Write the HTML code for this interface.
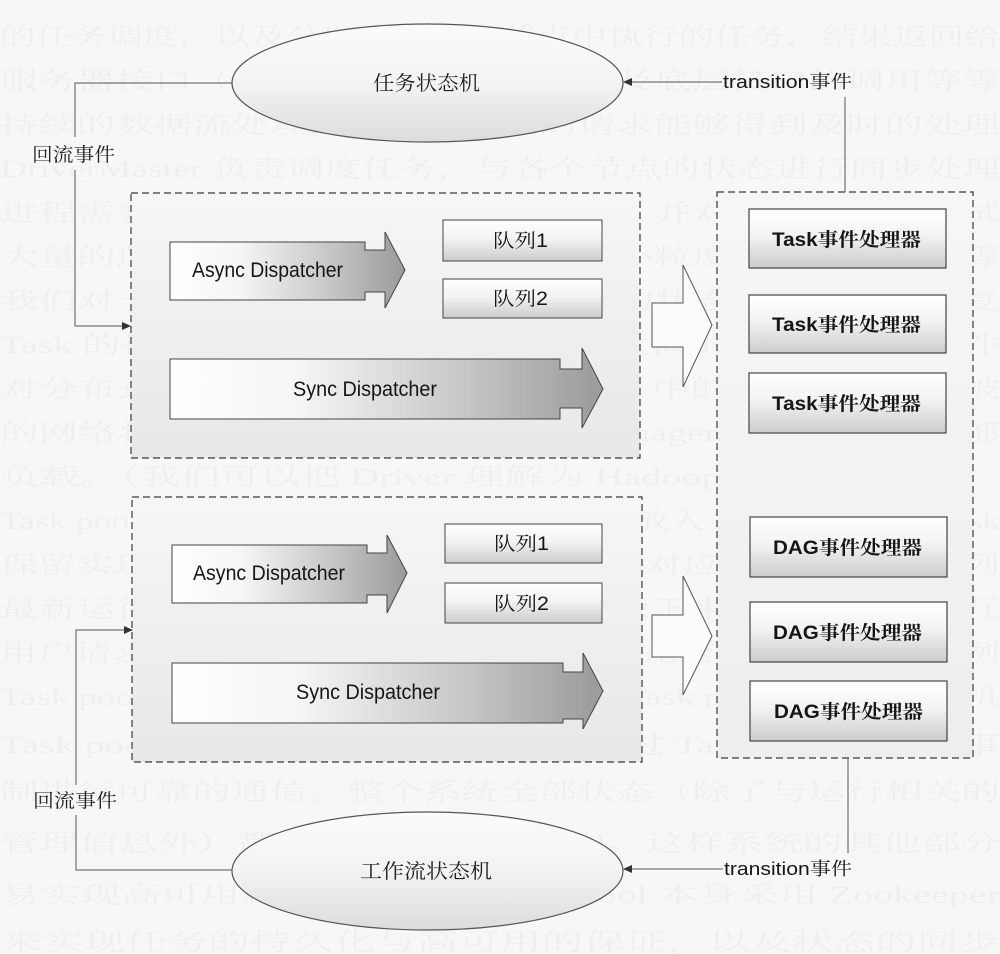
<!DOCTYPE html>
<html>
<head>
<meta charset="utf-8">
<style>
  html,body{margin:0;padding:0;background:#f7f7f7;}
  body{width:1000px;height:954px;overflow:hidden;}
  svg{display:block;}
  .bg{font-family:"Liberation Serif","Noto Serif CJK SC",serif;font-size:24px;fill:#efefef;}
  .lat{font-family:"Liberation Sans","Noto Serif CJK SC",sans-serif;fill:#161616;}
  .cn{font-family:"Liberation Serif","Noto Serif CJK SC",serif;fill:#222;}
</style>
</head>
<body>
<svg width="1000" height="954" viewBox="0 0 1000 954" xmlns="http://www.w3.org/2000/svg">
  <defs>
    <linearGradient id="arrowGrad" x1="0" y1="0" x2="1" y2="0">
      <stop offset="0" stop-color="#ffffff"/>
      <stop offset="0.3" stop-color="#f5f5f5"/>
      <stop offset="0.7" stop-color="#c4c4c4"/>
      <stop offset="1" stop-color="#9a9a9a"/>
    </linearGradient>
    <linearGradient id="boxGrad" x1="0" y1="0" x2="0" y2="1">
      <stop offset="0" stop-color="#ffffff"/>
      <stop offset="0.45" stop-color="#f3f3f3"/>
      <stop offset="1" stop-color="#cccccc"/>
    </linearGradient>
    <linearGradient id="ellGrad" x1="0" y1="0" x2="0" y2="1">
      <stop offset="0" stop-color="#fbfbfb"/>
      <stop offset="0.5" stop-color="#f3f3f3"/>
      <stop offset="1" stop-color="#dcdcdc"/>
    </linearGradient>
    <linearGradient id="panelGrad" x1="0" y1="0" x2="0" y2="1">
      <stop offset="0" stop-color="#f6f6f6"/>
      <stop offset="1" stop-color="#e8e8e8"/>
    </linearGradient>
    <linearGradient id="panelGrad2" x1="0" y1="0" x2="0" y2="1">
      <stop offset="0" stop-color="#f6f6f6"/>
      <stop offset="1" stop-color="#eeeeee"/>
    </linearGradient>
  </defs>

  <!-- faint background bleed-through text -->
  <g class="bg">
    <text x="0" y="45" textLength="1000" lengthAdjust="spacingAndGlyphs">的任务调度，以及分发到相应的节点中执行的任务，结果返回给</text>
    <text x="0" y="89" textLength="1000" lengthAdjust="spacingAndGlyphs">服务器接口（读、写）请求处理，以及底层接口的调用等等</text>
    <text x="0" y="133" textLength="1000" lengthAdjust="spacingAndGlyphs">持续的数据流处理，保证各类型的请求能够得到及时的处理</text>
    <text x="0" y="177" textLength="1000" lengthAdjust="spacingAndGlyphs">DriverMaster 负责调度任务，与各个节点的状态进行同步处理</text>
    <text x="0" y="221" textLength="1000" lengthAdjust="spacingAndGlyphs">进程需要只需要检测任务的执行状态，并对失败的任务重试</text>
    <text x="0" y="265" textLength="1000" lengthAdjust="spacingAndGlyphs">大量的逻辑请求会被处理器拆分为更小粒度的任务来执行等</text>
    <text x="0" y="309" textLength="1000" lengthAdjust="spacingAndGlyphs">我们对于所有的任务都会记录其完整的状态信息以便于恢复</text>
    <text x="0" y="353" textLength="1000" lengthAdjust="spacingAndGlyphs">Task 的执行过程以及 Driver 与 Node 之间的交互都通过事件</text>
    <text x="0" y="397" textLength="1000" lengthAdjust="spacingAndGlyphs">对分布式执行的任务进行管理，Driver 中的事件处理器会被</text>
    <text x="0" y="441" textLength="1000" lengthAdjust="spacingAndGlyphs">的网络状态。Driver 具有 ResourceManager 调度任务的全部</text>
    <text x="0" y="485" textLength="1000" lengthAdjust="spacingAndGlyphs">负载。（我们可以把 Driver 理解为 Hadoop 的 JobTracker）</text>
    <text x="0" y="529" textLength="1000" lengthAdjust="spacingAndGlyphs">Task pool，Driver 会把已经准备好的任务放入 Task pool 中，Task</text>
    <text x="0" y="573" textLength="1000" lengthAdjust="spacingAndGlyphs">保留实现，任务完成后，结果将被放入对应的 Task 完成队列</text>
    <text x="0" y="617" textLength="1000" lengthAdjust="spacingAndGlyphs">最新运行的任务与状态变化都会被记录下来，与 Driver 交互</text>
    <text x="0" y="661" textLength="1000" lengthAdjust="spacingAndGlyphs">用户请求获取了更新的状态，与 Driver 完全解耦的 Node 实例</text>
    <text x="0" y="705" textLength="1000" lengthAdjust="spacingAndGlyphs">Task pool 中任务。Driver 和 Node 通过 Task pool 建立的事件机</text>
    <text x="0" y="753" textLength="1000" lengthAdjust="spacingAndGlyphs">Task pool 中任务。Driver 和 Node 通过 Task pool 建立的事</text>
    <text x="0" y="800" textLength="1000" lengthAdjust="spacingAndGlyphs">制进行可靠的通信。整个系统全部状态（除了与运行相关的</text>
    <text x="0" y="851" textLength="1000" lengthAdjust="spacingAndGlyphs">管理信息外）都保存在 Task pool 中。这样系统的其他部分</text>
    <text x="0" y="903" textLength="1000" lengthAdjust="spacingAndGlyphs">易实现高可用和伸缩性，而 Task pool 本身采用 Zookeeper</text>
    <text x="0" y="950" textLength="1000" lengthAdjust="spacingAndGlyphs">来实现任务的持久化与高可用的保证，以及状态的同步</text>
  </g>

  <!-- dashed panels -->
  <rect x="131" y="193" width="509" height="265" fill="url(#panelGrad)" stroke="#3a3a3a" stroke-width="1.2" stroke-dasharray="7,4"/>
  <rect x="132" y="497" width="510" height="265" fill="url(#panelGrad)" stroke="#3a3a3a" stroke-width="1.2" stroke-dasharray="7,4"/>
  <rect x="717" y="192" width="256" height="566" fill="url(#panelGrad2)" stroke="#3a3a3a" stroke-width="1.2" stroke-dasharray="7,4"/>

  <!-- ellipses -->
  <ellipse cx="427.5" cy="83" rx="195.5" ry="59" fill="url(#ellGrad)" stroke="#555" stroke-width="1.2"/>
  <text class="cn" x="373" y="90" font-size="20" textLength="107" lengthAdjust="spacingAndGlyphs">任务状态机</text>

  <ellipse cx="427.5" cy="871" rx="195.5" ry="59" fill="url(#ellGrad)" stroke="#555" stroke-width="1.2"/>
  <text class="cn" x="360" y="878" font-size="20" textLength="132" lengthAdjust="spacingAndGlyphs">工作流状态机</text>

  <!-- left connectors -->
  <polyline points="232,83 75,83 75,137" fill="none" stroke="#555" stroke-width="1"/>
  <polyline points="75,170 75,326 123,326" fill="none" stroke="#555" stroke-width="1"/>
  <polygon points="131,326 122,322 122,330" fill="#333"/>
  <text class="cn" x="32" y="161" font-size="19" textLength="83" lengthAdjust="spacingAndGlyphs">回流事件</text>

  <polyline points="232,870 76,870 76,815" fill="none" stroke="#555" stroke-width="1"/>
  <polyline points="76,785 76,630 124,630" fill="none" stroke="#555" stroke-width="1"/>
  <polygon points="133,630 124,626 124,634" fill="#333"/>
  <text class="cn" x="33" y="807" font-size="19" textLength="84" lengthAdjust="spacingAndGlyphs">回流事件</text>

  <!-- transition connectors -->
  <line x1="631" y1="82" x2="722" y2="82" stroke="#555" stroke-width="1"/>
  <polygon points="623,82 632,78 632,86" fill="#333"/>
  <text class="lat" x="723" y="88" font-size="18" textLength="129" lengthAdjust="spacingAndGlyphs">transition事件</text>
  <line x1="845" y1="97" x2="845" y2="192" stroke="#555" stroke-width="1"/>

  <line x1="848" y1="758" x2="848" y2="853" stroke="#555" stroke-width="1"/>
  <line x1="631" y1="869" x2="723" y2="869" stroke="#555" stroke-width="1"/>
  <polygon points="623,869 632,865 632,873" fill="#333"/>
  <text class="lat" x="724" y="875" font-size="18" textLength="128" lengthAdjust="spacingAndGlyphs">transition事件</text>

  <!-- top panel contents -->
  <polygon points="170,242 365,242 365,250 385,250 385,232 405,270 385,308 385,292 365,292 365,300 170,300" fill="url(#arrowGrad)" stroke="#444" stroke-width="1"/>
  <text class="lat" x="192" y="277" font-size="21" textLength="151" lengthAdjust="spacingAndGlyphs">Async Dispatcher</text>

  <rect x="443" y="220" width="159" height="41" fill="url(#boxGrad)" stroke="#444" stroke-width="1"/>
  <text class="lat" x="493" y="247" font-size="19" textLength="55" lengthAdjust="spacingAndGlyphs">队列1</text>
  <rect x="443" y="279" width="159" height="39" fill="url(#boxGrad)" stroke="#444" stroke-width="1"/>
  <text class="lat" x="493" y="305" font-size="19" textLength="55" lengthAdjust="spacingAndGlyphs">队列2</text>

  <polygon points="170,359 560,359 560,369 582,369 582,348 603,389 582,428 582,408 560,408 560,419 170,419" fill="url(#arrowGrad)" stroke="#444" stroke-width="1"/>
  <text class="lat" x="293" y="396" font-size="21" textLength="144" lengthAdjust="spacingAndGlyphs">Sync Dispatcher</text>

  <!-- bottom panel contents -->
  <polygon points="172,545 367,545 367,553 387,553 387,535 407,573 387,613 387,595 367,595 367,603 172,603" fill="url(#arrowGrad)" stroke="#444" stroke-width="1"/>
  <text class="lat" x="193" y="580" font-size="21" textLength="152" lengthAdjust="spacingAndGlyphs">Async Dispatcher</text>

  <rect x="445" y="524" width="157" height="39" fill="url(#boxGrad)" stroke="#444" stroke-width="1"/>
  <text class="lat" x="494" y="550" font-size="19" textLength="55" lengthAdjust="spacingAndGlyphs">队列1</text>
  <rect x="445" y="583" width="157" height="40" fill="url(#boxGrad)" stroke="#444" stroke-width="1"/>
  <text class="lat" x="494" y="610" font-size="19" textLength="55" lengthAdjust="spacingAndGlyphs">队列2</text>

  <polygon points="172,663 563,663 563,672 583,672 583,653 603,691 583,729 583,719 563,719 563,723 172,723" fill="url(#arrowGrad)" stroke="#444" stroke-width="1"/>
  <text class="lat" x="296" y="699" font-size="21" textLength="144" lengthAdjust="spacingAndGlyphs">Sync Dispatcher</text>

  <!-- hollow arrows -->
  <polygon points="652,303 683,303 683,265 712,325 683,387 683,347 652,347" fill="#fbfbfb" stroke="#555" stroke-width="1"/>
  <polygon points="652,615 683,615 683,576 712,636 683,695 683,657 652,657" fill="#fbfbfb" stroke="#555" stroke-width="1"/>

  <!-- handler boxes -->
  <g stroke="#444" stroke-width="1.2" fill="url(#boxGrad)">
    <rect x="749" y="209" width="197" height="59"/>
    <rect x="749" y="295" width="197" height="58"/>
    <rect x="749" y="373" width="197" height="60"/>
    <rect x="750" y="517" width="197" height="60"/>
    <rect x="750" y="602" width="197" height="60"/>
    <rect x="750" y="681" width="197" height="60"/>
  </g>
  <g class="lat" font-size="19" font-weight="bold">
    <text x="772" y="246" textLength="149" lengthAdjust="spacingAndGlyphs">Task事件处理器</text>
    <text x="772" y="331" textLength="149" lengthAdjust="spacingAndGlyphs">Task事件处理器</text>
    <text x="772" y="410" textLength="149" lengthAdjust="spacingAndGlyphs">Task事件处理器</text>
    <text x="773" y="554" textLength="149" lengthAdjust="spacingAndGlyphs">DAG事件处理器</text>
    <text x="773" y="639" textLength="149" lengthAdjust="spacingAndGlyphs">DAG事件处理器</text>
    <text x="774" y="718" textLength="149" lengthAdjust="spacingAndGlyphs">DAG事件处理器</text>
  </g>
</svg>
</body>
</html>
